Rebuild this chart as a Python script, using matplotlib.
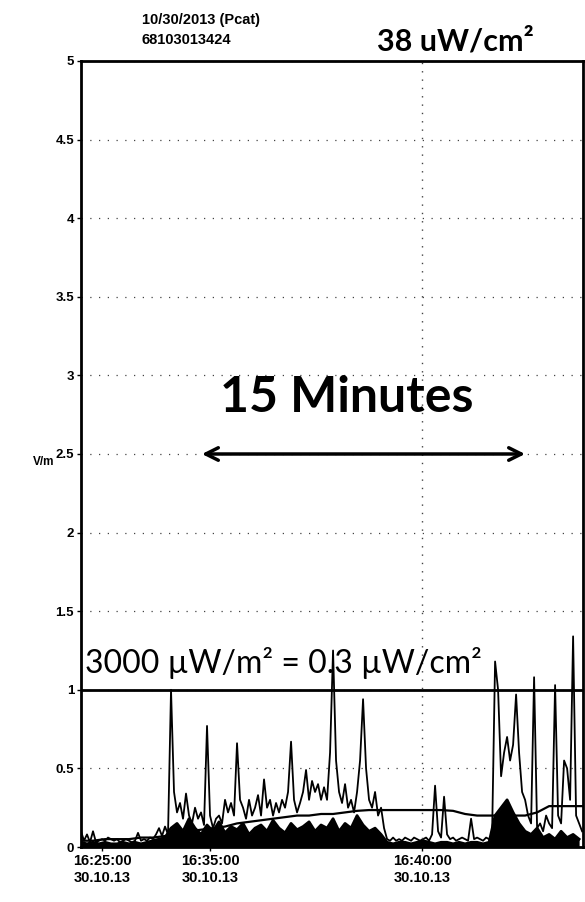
import matplotlib
matplotlib.use("Agg")
import matplotlib.pyplot as plt

# sample index (one sample ~ every few seconds), values in V/m
peak_vals = [
    0.10, 0.04, 0.08, 0.03, 0.10, 0.03, 0.04, 0.05, 0.04, 0.06,
    0.05, 0.04, 0.05, 0.03, 0.04, 0.05, 0.04, 0.03, 0.04, 0.09,
    0.04, 0.05, 0.04, 0.06, 0.05, 0.08, 0.12, 0.07, 0.13, 0.08,
    1.00, 0.35, 0.22, 0.28, 0.18, 0.34, 0.20, 0.15, 0.25, 0.18,
    0.22, 0.14, 0.77, 0.20, 0.12, 0.18, 0.20, 0.15, 0.30, 0.22,
    0.28, 0.20, 0.66, 0.30, 0.25, 0.18, 0.30, 0.20, 0.25, 0.33,
    0.20, 0.43, 0.25, 0.30, 0.20, 0.28, 0.22, 0.30, 0.25, 0.35,
    0.67, 0.30, 0.22, 0.28, 0.35, 0.49, 0.30, 0.42, 0.35, 0.40,
    0.30, 0.38, 0.30, 0.60, 1.25, 0.55, 0.35, 0.28, 0.40, 0.25,
    0.30, 0.22, 0.35, 0.55, 0.94, 0.50, 0.30, 0.25, 0.35, 0.20,
    0.25, 0.12, 0.05, 0.04, 0.06, 0.04, 0.05, 0.04, 0.06, 0.05,
    0.04, 0.06, 0.05, 0.04, 0.05, 0.06, 0.04, 0.08, 0.39, 0.10,
    0.06, 0.32, 0.08, 0.05, 0.06, 0.04, 0.05, 0.06, 0.05, 0.04,
    0.18, 0.05, 0.06, 0.05, 0.04, 0.06, 0.05, 0.08, 1.18, 1.00,
    0.45, 0.60, 0.70, 0.55, 0.65, 0.97, 0.60, 0.35, 0.30, 0.20,
    0.15, 1.08, 0.12, 0.15, 0.10, 0.20, 0.15, 0.12, 1.03, 0.20,
    0.15, 0.55, 0.50, 0.30, 1.34, 0.20, 0.15, 0.10,
]
peak_idx = list(range(len(peak_vals)))

low_idx = list(range(0, 168, 2))
low_vals = [
    0.03, 0.02, 0.03, 0.02, 0.03, 0.02, 0.02, 0.03, 0.02, 0.03, 0.02, 0.03, 0.04, 0.05, 0.06,
    0.12, 0.15, 0.10, 0.18, 0.12, 0.08, 0.14, 0.10, 0.16, 0.09, 0.13, 0.11, 0.15, 0.08, 0.12,
    0.14, 0.10, 0.17, 0.12, 0.09, 0.15, 0.11, 0.13, 0.16, 0.10, 0.14, 0.12, 0.18, 0.10, 0.15,
    0.12, 0.20, 0.14, 0.10, 0.12, 0.08,
    0.03, 0.02, 0.03, 0.03, 0.02, 0.03, 0.04, 0.03, 0.02, 0.03, 0.03, 0.02, 0.03, 0.02, 0.03,
    0.03, 0.02, 0.03,
    0.20, 0.25, 0.30, 0.22, 0.15, 0.10, 0.08, 0.12, 0.06, 0.08, 0.05, 0.10, 0.06, 0.08, 0.05,
]

avg_idx = [0, 4, 8, 12, 16, 20, 24, 28, 32, 36, 40, 44, 48, 52, 56, 60, 64, 68, 72, 76, 80, 84,
           88, 92, 96, 100, 104, 108, 112, 116, 120, 124, 128, 132, 136, 140, 144, 148, 152, 156,
           160, 164, 167]
avg_vals = [0.04, 0.04, 0.05, 0.05, 0.05, 0.06, 0.06, 0.07, 0.09, 0.10, 0.11, 0.12, 0.13, 0.15,
            0.16, 0.17, 0.18, 0.19, 0.20, 0.20, 0.21, 0.21, 0.22, 0.23, 0.235, 0.235, 0.235, 0.235,
            0.235, 0.235, 0.235, 0.23, 0.21, 0.20, 0.20, 0.20, 0.20, 0.20, 0.22, 0.26, 0.26, 0.26,
            0.26]

limit_value = 1.0
tick_pos = [7.0, 43.0, 113.7]
tick_labels = ["16:25:00\n30.10.13", "16:35:00\n30.10.13", "16:40:00\n30.10.13"]
y_ticks = [0, 0.5, 1, 1.5, 2, 2.5, 3, 3.5, 4, 4.5, 5]
y_tick_labels = ["0", "0.5", "1", "1.5", "2", "2.5", "3", "3.5", "4", "4.5", "5"]

W, H = 585, 902
fig = plt.figure(figsize=(W / 100, H / 100), dpi=100)
ax = fig.add_axes([81 / W, 1 - 847 / H, (583 - 81) / W, (847 - 61) / H])

ax.fill_between(low_idx, 0, low_vals, color="black", lw=0)
ax.plot(low_idx, low_vals, color="black", lw=2.0)
ax.plot(avg_idx, avg_vals, color="black", lw=1.6)
ax.plot(peak_idx, peak_vals, color="black", lw=1.3)
ax.axhline(limit_value, color="black", lw=2)

ax.set_xlim(0, 167.3)
ax.set_ylim(0, 5)

ax.set_yticks(y_ticks)
ax.set_yticklabels(y_tick_labels, fontsize=9.5, fontweight="bold", family="Liberation Sans")
ax.set_xticks(tick_pos)
ax.set_xticklabels(tick_labels, fontsize=10.5, fontweight="bold", family="Liberation Sans",
                   linespacing=1.25)
ax.tick_params(axis="both", length=3, width=1, pad=2, color="black")

ax.yaxis.grid(True, linestyle=(0, (1, 6)), color="#444444", lw=0.9)
ax.axvline(tick_pos[2], linestyle=(0, (1, 5)), color="#444444", lw=1.0)

for s in ax.spines.values():
    s.set_linewidth(2)
    s.set_color("black")

# annotations
ax.text(88.7, 2.86, "15 Minutes", fontsize=36, fontweight="bold", family="Lato",
        ha="center", va="center")
ax.annotate("", xy=(148, 2.5), xytext=(40.3, 2.5),
            arrowprops=dict(arrowstyle="<->,head_length=0.9,head_width=0.45", lw=2.5,
                            color="black", shrinkA=0, shrinkB=0))
ax.text(1.3, 1.11, "3000 µW/m² = 0.3 µW/cm²", fontsize=23, family="Lato",
        ha="left", va="baseline")

fig.text(142 / W, 1 - 20 / H, "10/30/2013 (Pcat)", fontsize=10.5, fontweight="bold",
         family="Liberation Sans", ha="left", va="center")
fig.text(142 / W, 1 - 40 / H, "68103013424", fontsize=10.5, fontweight="bold",
         family="Liberation Sans", ha="left", va="center")
fig.text(377 / W, 1 - 50 / H, "38 uW/cm²", fontsize=22, fontweight="bold", family="Lato",
         ha="left", va="baseline")
fig.text(54 / W, 1 - 462 / H, "V/m", fontsize=8.5, fontweight="bold", family="Liberation Sans",
         ha="right", va="center")

fig.savefig("out.png", dpi=100)
